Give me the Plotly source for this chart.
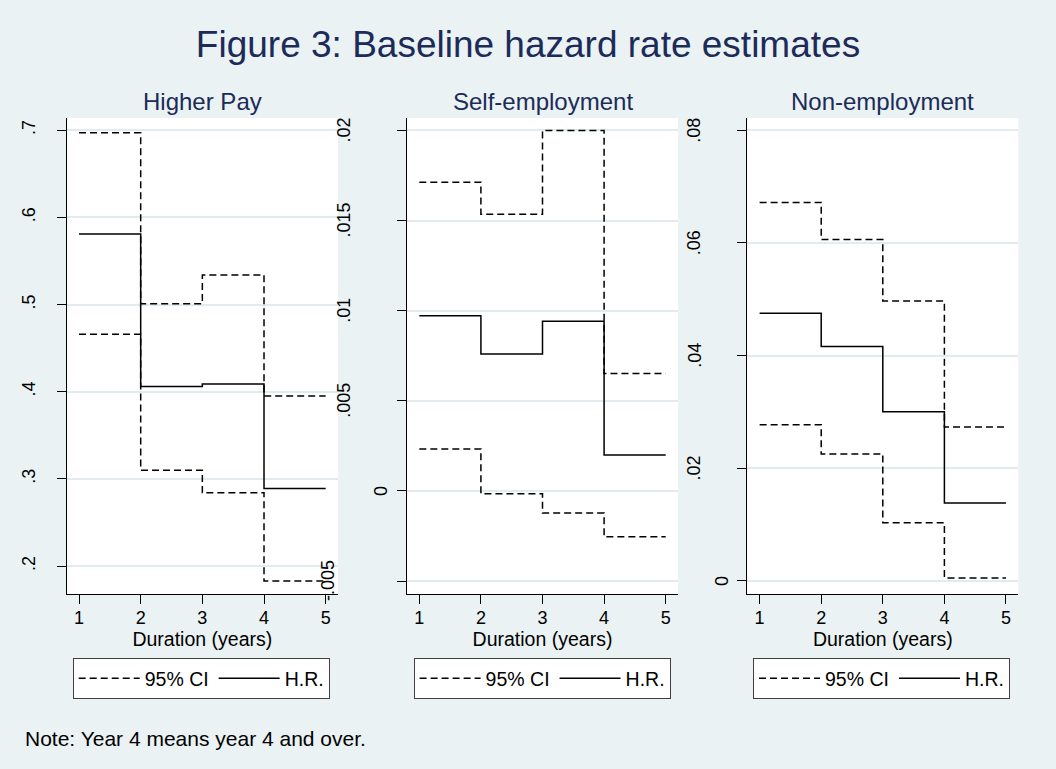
import plotly.graph_objects as go

# ---------------- data ----------------
duration = [1, 2, 3, 4, 5]
panel_titles = ["Higher Pay", "Self-employment", "Non-employment"]

hp_hr = [0.581, 0.406, 0.409, 0.289]
hp_lo = [0.466, 0.310, 0.284, 0.183]
hp_hi = [0.697, 0.501, 0.534, 0.395]

se_hr = [0.00972, 0.00760, 0.00941, 0.00199]
se_lo = [0.00233, -0.00016, -0.00123, -0.00255]
se_hi = [0.01713, 0.01535, 0.02000, 0.00652]

ne_hr = [0.0475, 0.0416, 0.0300, 0.0138]
ne_lo = [0.0277, 0.0225, 0.0103, 0.0005]
ne_hi = [0.0672, 0.0606, 0.0497, 0.0273]

hp_ticks = [0.2, 0.3, 0.4, 0.5, 0.6, 0.7]
hp_ticktext = [".2", ".3", ".4", ".5", ".6", ".7"]
se_ticks = [-0.005, 0, 0.005, 0.01, 0.015, 0.02]
se_ticktext = ["-.005", "0", ".005", ".01", ".015", ".02"]
ne_ticks = [0, 0.02, 0.04, 0.06, 0.08]
ne_ticktext = ["0", ".02", ".04", ".06", ".08"]

x_ticks = [1, 2, 3, 4, 5]
x_ticktext = ["1", "2", "3", "4", "5"]

legend_labels = ["95% CI", "H.R."]
x_title = "Duration (years)"
main_title = "Figure 3: Baseline hazard rate estimates"
note_text = "Note: Year 4 means year 4 and over."

# ---------------- styling ----------------
W, H = 1056, 769
BG = "#EAF2F3"
GRID = "#E2EBEE"
NAVY = "#1C2B59"
FONT = "Liberation Sans, Arial, Helvetica, sans-serif"

x_domains = [(66.7 / W, 338.0 / W), (407.0 / W, 678.0 / W), (747.3 / W, 1018.3 / W)]
y_domain = (1 - 594.0 / H, 1 - 118.0 / H)
y_ranges = [(0.168, 0.714), (-0.00572, 0.02069), (-0.00236, 0.0822)]
legend_x = [72.7 / W, 413.6 / W, 753.0 / W]
legend_top = 1 - 658.0 / H
# label centre distance from the axis line (px), per tick label
label_offsets = [
    None,
    [79, 26, 63, 63, 63, 63],
    [26, 53, 53, 53, 53],
]

panels = [
    (hp_hr, hp_lo, hp_hi, hp_ticks, hp_ticktext),
    (se_hr, se_lo, se_hi, se_ticks, se_ticktext),
    (ne_hr, ne_lo, ne_hi, ne_ticks, ne_ticktext),
]

fig = go.Figure()
annotations = []
DASH = "7px,4px"
LW = 1.5
TICKFONT = dict(size=18, color="black", family=FONT)

for i, (hr, lo, hi, yt, ytt) in enumerate(panels):
    n = i + 1
    xa = "x" if n == 1 else f"x{n}"
    ya = "y" if n == 1 else f"y{n}"
    lg = "legend" if n == 1 else f"legend{n}"

    def step(v):
        return list(v) + [v[-1]]

    fig.add_trace(go.Scatter(
        x=duration, y=step(hi), mode="lines", line_shape="hv",
        line=dict(color="black", width=LW, dash=DASH),
        name=legend_labels[0], legend=lg, showlegend=True,
        xaxis=xa, yaxis=ya, hoverinfo="skip"))
    fig.add_trace(go.Scatter(
        x=duration, y=step(lo), mode="lines", line_shape="hv",
        line=dict(color="black", width=LW, dash=DASH),
        name=legend_labels[0], legend=lg, showlegend=False,
        xaxis=xa, yaxis=ya, hoverinfo="skip"))
    fig.add_trace(go.Scatter(
        x=duration, y=step(hr), mode="lines", line_shape="hv",
        line=dict(color="black", width=LW),
        name=legend_labels[1], legend=lg, showlegend=True,
        xaxis=xa, yaxis=ya, hoverinfo="skip"))

    xkey = "xaxis" if n == 1 else f"xaxis{n}"
    ykey = "yaxis" if n == 1 else f"yaxis{n}"
    fig.update_layout(**{
        xkey: dict(
            domain=list(x_domains[i]), anchor=ya, range=[0.8, 5.2],
            tickmode="array", tickvals=x_ticks, ticktext=x_ticktext,
            ticks="outside", ticklen=9, tickwidth=1.3, tickcolor="black",
            showline=True, linecolor="black", linewidth=1.3,
            showgrid=False, zeroline=False,
            tickfont=TICKFONT, ticklabelstandoff=-2,
            title=dict(text=x_title, standoff=0,
                       font=dict(size=19.5, color="black", family=FONT)),
            fixedrange=True,
        ),
        ykey: dict(
            domain=list(y_domain), anchor=xa, range=list(y_ranges[i]),
            tickmode="array", tickvals=yt, ticktext=ytt,
            ticks="outside", ticklen=9, tickwidth=1.3, tickcolor="black",
            showline=True, linecolor="black", linewidth=1.3,
            showgrid=True, gridcolor=GRID, gridwidth=1.5, zeroline=False,
            tickangle=-90, showticklabels=(n == 1), ticklabelstandoff=14,
            tickfont=TICKFONT,
            fixedrange=True,
        ),
        lg: dict(
            orientation="h", x=legend_x[i], y=legend_top,
            xanchor="left", yanchor="top", xref="paper", yref="paper",
            bgcolor="white", bordercolor="#404040", borderwidth=1,
            font=dict(size=19.5, color="black", family=FONT),
            itemwidth=61,
            itemclick=False, itemdoubleclick=False,
            traceorder="normal",
        ),
    })

    # subplot title
    annotations.append(dict(
        text=panel_titles[i], xref=f"{xa} domain", x=0.5, xanchor="center",
        yref="paper", y=1 - 102.0 / H, yanchor="middle", showarrow=False,
        font=dict(size=24, color=NAVY, family=FONT)))

    # y tick labels placed like the original (panels 2 and 3)
    if label_offsets[i] is not None:
        for val, txt, off in zip(yt, ytt, label_offsets[i]):
            annotations.append(dict(
                text=txt, xref=f"{xa} domain", x=0, xshift=-off,
                xanchor="center", yref=ya, y=val, yanchor="middle",
                textangle=-90, showarrow=False, font=TICKFONT))

annotations.append(dict(
    text=note_text, xref="paper", x=22.7 / W, xanchor="left",
    yref="paper", y=1 - 738.5 / H, yanchor="middle", showarrow=False,
    font=dict(size=21, color="black", family=FONT)))

fig.update_layout(
    width=W, height=H,
    margin=dict(l=0, r=0, t=0, b=0),
    paper_bgcolor=BG, plot_bgcolor="white",
    font=dict(family=FONT, color="black"),
    title=dict(text=main_title, x=0.5, xanchor="center",
               yref="container", y=1 - 44.0 / H, yanchor="middle",
               font=dict(size=37, color=NAVY, family=FONT)),
    annotations=annotations,
    hovermode=False,
)

fig.write_html(
    "out.html",
    config={"displayModeBar": False},
    post_script="document.body.style.margin='0px';"
                "document.body.style.overflow='hidden';",
)
